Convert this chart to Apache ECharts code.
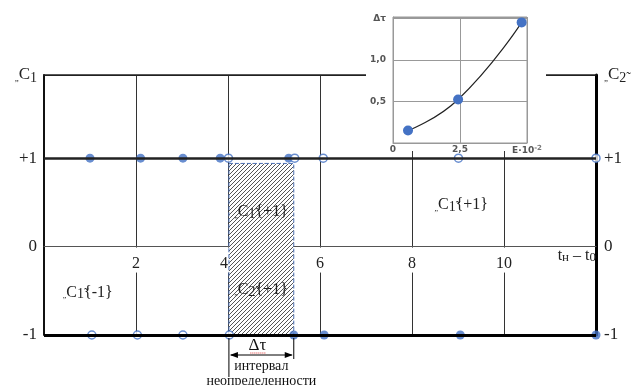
<!DOCTYPE html>
<html>
<head>
<meta charset="utf-8">
<script src="https://cdn.jsdelivr.net/npm/echarts@6/dist/echarts.min.js"></script>
<style>
html, body { margin: 0; padding: 0; background: #fff; }
#chart { width: 631px; height: 385px; }
</style>
</head>
<body>
<div id="chart"></div>
<script>
// switching points on the +1 / -1 levels (x = tн - t0)
const upperFilled = [1.0, 2.1, 3.02, 3.83, 5.32];
const upperHollow = [4.01, 5.45, 6.07, 9.01, 12.0];
const lowerHollow = [1.04, 2.03, 3.02, 4.03];
const lowerFilled = [5.43, 6.09, 9.05, 12.0];
const upperLevel = 1;
const lowerLevel = -1;
const levelLabels = { '1': '+1', '0': '0', '-1': '-1' };

// uncertainty interval (hatched box)
const intervalStart = 4.02;
const intervalEnd = 5.43;
const intervalTop = 0.94;

// text notes inside the plot: [x, y, index, sign]
const notes = [
  [0.95, -0.52, '1', '-1'],
  [9.07, 0.47, '1', '+1'],
  [4.72, 0.39, '1', '+1'],
  [4.72, -0.49, '2', '+1']
];

// inset: Δτ vs E·10^-2
const insetX = [0.56, 2.43, 4.8];
const insetY = [0.15, 0.525, 1.455];
const insetXLabels = { '0': '0', '2.5': '2,5', '5': '{e|E·10}{p|-2}' };
const insetYLabels = { '0': '', '0.5': '0,5', '1': '1,0' };

const serif = 'Liberation Serif';
const blue = '#4472C4';

// diagonal hatch for the interval box
let hatch = document.createElement('canvas');
hatch.width = 4;
hatch.height = 4;
let hc = hatch.getContext('2d');
hc.fillStyle = '#fff';
hc.fillRect(0, 0, 4, 4);
hc.strokeStyle = '#555';
hc.lineWidth = 1;
hc.beginPath();
hc.moveTo(-1, 5); hc.lineTo(5, -1);
hc.moveTo(-1, 1); hc.lineTo(1, -1);
hc.moveTo(3, 5); hc.lineTo(5, 3);
hc.stroke();

const richC = {
  q: { fontFamily: serif, fontSize: 9, color: '#222', padding: [8, 0, 0, 0] },
  c: { fontFamily: serif, fontSize: 17, color: '#222' },
  s: { fontFamily: serif, fontSize: 14, color: '#222', padding: [7, 0, 0, 0] }
};

function levelLabel(top) {
  return function (v) {
    if (levelLabels[String(v)] !== undefined) return levelLabels[String(v)];
    return top;
  };
}

let myChart = echarts.init(document.getElementById('chart'));

let option = {
  animation: false,
  grid: [
    { left: 44, right: 35, top: 75, bottom: 50, outerBoundsMode: 'none' },
    { left: 393, width: 134, top: 17, height: 126, outerBoundsMode: 'none', z: 2, show: true, borderColor: '#999', borderWidth: 1 }
  ],
  graphic: [
    { id: 'cover', type: 'rect', z: 1, shape: { x: 366, y: 0, width: 180, height: 151 }, style: { fill: '#fff' } }
  ],
  xAxis: [
    {
      gridIndex: 0, type: 'value', min: 0, max: 12, interval: 2, position: 'bottom',
      axisLine: { onZero: false, lineStyle: { color: '#555', width: 1 } },
      axisTick: { show: false },
      axisLabel: {
        // the "4" sits just left of the hatched box
        formatter: v => (v === 0 || v === 12) ? '' : (v === intervalStart - (intervalStart % 2) ? '{m|' + v + '}' : '{n|' + v + '}'),
        margin: 1,
        rich: {
          n: { fontFamily: serif, fontSize: 16, color: '#222', backgroundColor: '#fff', padding: [8, 3, 1, 3] },
          m: { fontFamily: serif, fontSize: 16, color: '#222', backgroundColor: '#fff', padding: [8, 8, 1, 0] }
        }
      },
      splitLine: { show: true, lineStyle: { color: '#333', width: 1 } },
      name: '{t|t}{s|н}{t| – t}{s|0}',
      nameLocation: 'end', nameGap: 0,
      nameTextStyle: {
        align: 'right', verticalAlign: 'top', padding: [0, 0, 0, 0],
        rich: {
          t: { fontFamily: serif, fontSize: 16, color: '#222' },
          s: { fontFamily: serif, fontSize: 13, color: '#222', padding: [5, 0, 0, 0] }
        }
      }
    },
    {
      gridIndex: 0, type: 'value', min: 0, max: 12, position: 'top',
      axisLine: { onZero: false, lineStyle: { color: '#222', width: 1.5 } },
      axisTick: { show: false }, axisLabel: { show: false }, splitLine: { show: false }
    },
    {
      gridIndex: 1, type: 'value', min: 0, max: 5, interval: 2.5, z: 2,
      axisLine: { lineStyle: { color: '#999' } },
      axisTick: { show: false },
      axisLabel: {
        formatter: v => insetXLabels[String(v)] || '',
        fontFamily: 'DejaVu Sans', fontWeight: 'bold', fontSize: 9, color: '#555', margin: 2,
        rich: {
          e: { fontFamily: 'DejaVu Sans', fontWeight: 'bold', fontSize: 9, color: '#555' },
          p: { fontFamily: 'DejaVu Sans', fontSize: 7, color: '#777', padding: [0, 0, 5, 0] }
        }
      },
      splitLine: { show: true, lineStyle: { color: '#999', width: 1 } }
    }
  ],
  yAxis: [
    {
      gridIndex: 0, type: 'value', min: -1, max: 1.94, interval: 1,
      axisLine: { show: true, onZero: false, lineStyle: { color: '#111', width: 2 } },
      axisTick: { show: false },
      axisLabel: {
        formatter: levelLabel('{q|„}{c|C}{s|1}'),
        fontFamily: serif, fontSize: 17, color: '#222', margin: 7, rich: richC
      },
      splitLine: { show: true, lineStyle: { color: ['#000', '#555', '#222', '#222'], width: 1 } }
    },
    {
      gridIndex: 0, type: 'value', min: -1, max: 1.94, interval: 1, position: 'right',
      axisLine: { show: true, onZero: false, lineStyle: { color: '#000', width: 3 } },
      axisTick: { show: false },
      axisLabel: {
        formatter: levelLabel('{q|„}{c|C}{s|2̃}'),
        fontFamily: serif, fontSize: 17, color: '#222', margin: 8, rich: richC
      },
      splitLine: { show: false }
    },
    {
      gridIndex: 1, type: 'value', min: 0, max: 1.52, interval: 0.5, z: 2,
      axisLine: { show: true, lineStyle: { color: '#999' } },
      axisTick: { show: false },
      axisLabel: {
        formatter: v => insetYLabels[String(v)] !== undefined ? insetYLabels[String(v)] : 'Δτ',
        fontFamily: 'DejaVu Sans', fontWeight: 'bold', fontSize: 9, color: '#555', margin: 7
      },
      splitLine: { show: true, lineStyle: { color: '#999', width: 1 } }
    }
  ],
  series: [
    {
      name: 'levels', type: 'line', xAxisIndex: 0, yAxisIndex: 0, data: [], z: 1,
      markLine: {
        silent: true, symbol: 'none', label: { show: false },
        data: [
          { yAxis: upperLevel, lineStyle: { color: '#222', width: 2.5, type: 'solid' } },
          { yAxis: lowerLevel, lineStyle: { color: '#000', width: 3, type: 'solid' } }
        ]
      },
      markArea: {
        silent: true,
        itemStyle: {
          color: { image: hatch, repeat: 'repeat' },
          borderColor: '#4a6fb5', borderWidth: 1, borderType: 'dashed'
        },
        data: [[{ xAxis: intervalStart, yAxis: intervalTop }, { xAxis: intervalEnd, yAxis: lowerLevel }]]
      },
      markPoint: {
        silent: true, symbol: 'circle', symbolSize: 0,
        label: {
          show: true, position: 'inside', fontFamily: serif, fontSize: 16, color: '#222',
          formatter: p => '{q|„}{c|C}{s|' + p.data.idx + '̃}' + '{' + p.data.sign + '}',
          rich: {
            q: { fontFamily: serif, fontSize: 8, color: '#222', padding: [7, 0, 0, 0] },
            c: { fontFamily: serif, fontSize: 16, color: '#222' },
            s: { fontFamily: serif, fontSize: 14, color: '#222', padding: [4, 0, 0, 0] }
          }
        },
        data: notes.map(n => ({ coord: [n[0], n[1]], idx: n[2], sign: n[3] }))
      }
    },
    {
      name: 'upper filled', type: 'scatter', z: 3, symbolSize: 9,
      itemStyle: { color: blue },
      data: upperFilled.map(x => [x, upperLevel])
    },
    {
      name: 'lower filled', type: 'scatter', z: 3, symbolSize: 9,
      itemStyle: { color: blue },
      data: lowerFilled.map(x => [x, lowerLevel])
    },
    {
      name: 'upper hollow', type: 'scatter', z: 4, symbolSize: 8,
      itemStyle: { color: '#fff', borderColor: blue, borderWidth: 1.5 },
      data: upperHollow.map(x => [x, upperLevel])
    },
    {
      name: 'lower hollow', type: 'scatter', z: 4, symbolSize: 8,
      itemStyle: { color: '#fff', borderColor: blue, borderWidth: 1.5 },
      data: lowerHollow.map(x => [x, lowerLevel])
    },
    {
      name: 'inset', type: 'line', xAxisIndex: 2, yAxisIndex: 2, z: 5,
      smooth: true, symbol: 'circle', symbolSize: 10,
      itemStyle: { color: blue },
      lineStyle: { color: '#222', width: 1.2 },
      data: insetX.map((x, i) => [x, insetY[i]])
    }
  ]
};
myChart.setOption(option);

// lift the labelled x axis up to the zero level
let yZero = myChart.convertToPixel({ yAxisIndex: 0 }, 0);
let yBottom = myChart.convertToPixel({ yAxisIndex: 0 }, lowerLevel);

// Δτ span under the hatched interval
let p0 = myChart.convertToPixel({ gridIndex: 0 }, [intervalStart, lowerLevel]);
let p1 = myChart.convertToPixel({ gridIndex: 0 }, [intervalEnd, lowerLevel]);
let ay = p0[1] + 20;
let mid = (p0[0] + p1[0]) / 2;
myChart.setOption({
  xAxis: [{ offset: -(yBottom - yZero) }],
  graphic: [
    { id: 'cover', type: 'rect', z: 1, shape: { x: 366, y: 0, width: 180, height: 151 }, style: { fill: '#fff' } },
    { type: 'line', z: 10, shape: { x1: p0[0], y1: p0[1] + 3, x2: p0[0], y2: p0[1] + 42 }, style: { stroke: '#000', lineWidth: 1 } },
    { type: 'line', z: 10, shape: { x1: p1[0], y1: p1[1] + 3, x2: p1[0], y2: p1[1] + 24 }, style: { stroke: '#000', lineWidth: 1 } },
    { type: 'line', z: 10, shape: { x1: p0[0] + 2, y1: ay, x2: p1[0] - 2, y2: ay }, style: { stroke: '#000', lineWidth: 1 } },
    { type: 'polygon', z: 10, shape: { points: [[p0[0] + 1, ay], [p0[0] + 9, ay - 3], [p0[0] + 9, ay + 3]] }, style: { fill: '#000' } },
    { type: 'polygon', z: 10, shape: { points: [[p1[0] - 1, ay], [p1[0] - 9, ay - 3], [p1[0] - 9, ay + 3]] }, style: { fill: '#000' } },
    { type: 'text', z: 10, x: mid - 4, y: ay - 9, style: { text: 'Δτ', fontFamily: serif, fontSize: 17, fill: '#111', align: 'center', verticalAlign: 'middle' } },
    { type: 'line', z: 10, shape: { x1: mid - 11, y1: ay - 2, x2: mid + 5, y2: ay - 2 }, style: { stroke: '#d33', lineWidth: 1, lineDash: [1, 1] } },
    { type: 'text', z: 10, x: mid, y: ay + 11, style: { text: 'интервал', fontFamily: serif, fontSize: 14, fill: '#111', align: 'center', verticalAlign: 'middle' } },
    { type: 'text', z: 10, x: mid, y: ay + 26, style: { text: 'неопределенности', fontFamily: serif, fontSize: 14, fill: '#111', align: 'center', verticalAlign: 'middle' } }
  ]
});

window.addEventListener('resize', function () {
  myChart.resize();
});
</script>
</body>
</html>
